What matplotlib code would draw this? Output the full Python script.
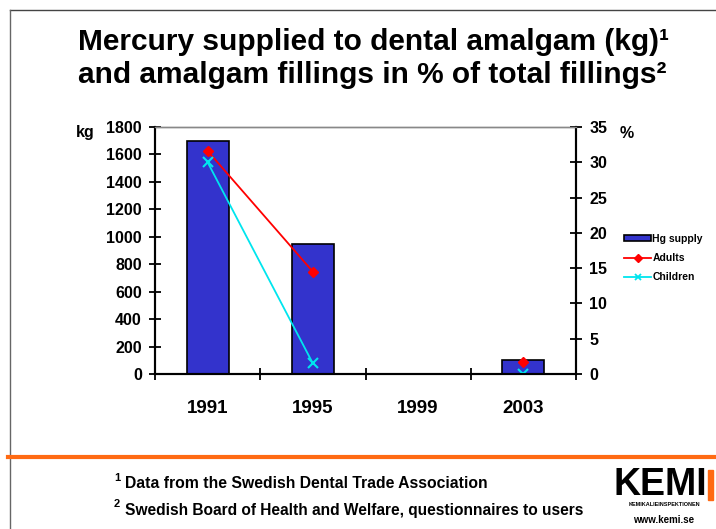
import matplotlib.pyplot as plt
import numpy as np
from matplotlib.lines import Line2D
from matplotlib.patches import Patch, Rectangle

plt.rcParams['font.family'] = 'Liberation Sans'
plt.rcParams['font.weight'] = 'bold'

# data
years = ['1991', '1995', '1999', '2003']
hg_supply = [1700, 950, np.nan, 100]      # kg
adults = [31.6, 14.5, np.nan, 1.7]        # % amalgam fillings
children = [30.0, 1.5, np.nan, 0.0]

fig = plt.figure(figsize=(7.16, 5.29), dpi=100)
ax = fig.add_axes([155/716, 1-374/529, (576-155)/716, (374-127)/529])
ax2 = ax.twinx()

x = np.arange(len(years))
ax.bar(x, hg_supply, width=0.4, color='#3333cc', edgecolor='black', linewidth=1.2, zorder=2)
ax.set_xlim(-0.5, 3.5)
ax.set_ylim(0, 1800)
ax.set_yticks(np.arange(0, 1801, 200))

ax2.plot(x, adults, color='red', marker='D', markersize=5, lw=1.3)
ax2.plot(x, children, color='#00e5ee', marker='x', markersize=7, mew=1.5, lw=1.3)
ax2.set_ylim(0, 35)
ax2.set_yticks(np.arange(0, 36, 5))

ax.set_xticks(x)
ax.set_xticklabels(years, fontsize=13.5, fontweight='bold')
ax.set_xticks(np.arange(-0.5, 3.6, 1), minor=True)
ax.tick_params(axis='x', which='major', length=0, pad=19)
ax.tick_params(axis='x', which='minor', direction='inout', length=9, width=1.3)
ax.tick_params(axis='y', direction='inout', length=9, width=1.3, labelsize=11.5, pad=5)
ax2.tick_params(axis='y', direction='inout', length=9, width=1.3, labelsize=11.5, pad=5)

for a in (ax, ax2):
    a.spines['top'].set_color('#888888')
    a.spines['top'].set_linewidth(1)
    for s in ('left', 'right', 'bottom'):
        a.spines[s].set_linewidth(1.5)
        a.spines[s].set_color('black')

for lab in ax.get_yticklabels() + ax2.get_yticklabels():
    lab.set_fontweight('bold')

fig.text(76/716, 1-133/529, 'kg', fontsize=11.5, fontweight='bold', ha='left', va='center')
fig.text(620/716, 1-134/529, '%', fontsize=11.5, fontweight='bold', ha='left', va='center')

handles = [Patch(facecolor='#3333cc', edgecolor='black', linewidth=1.2),
           Line2D([], [], color='red', marker='D', markersize=4, lw=1.3),
           Line2D([], [], color='#00e5ee', marker='x', markersize=5, mew=1.3, lw=1.3)]
fig.legend(handles, ['Hg supply', 'Adults', 'Children'], loc='center left',
           bbox_to_anchor=(619/716, 1-258/529), frameon=False,
           prop={'size': 7.5, 'weight': 'bold'}, handlelength=2.6, handleheight=0.5,
           handletextpad=0.1, labelspacing=0.85, borderpad=0)

fig.text(374/716, 1-42/529, 'Mercury supplied to dental amalgam (kg)¹', fontsize=21.5,
         fontweight='bold', ha='center', va='center')
fig.text(372/716, 1-75/529, 'and amalgam fillings in % of total fillings²', fontsize=21.5,
         fontweight='bold', ha='center', va='center')

# page frame and divider
fig.add_artist(Line2D([10/716, 1], [1-10/529, 1-10/529], color='#444444', lw=1))
fig.add_artist(Line2D([10/716, 10/716], [0, 1-10/529], color='#666666', lw=1))
fig.add_artist(Line2D([8/716, 1], [1-456.5/529, 1-456.5/529], color='#ff6a13', lw=3))

fig.text(114/716, 1-478/529, '1', fontsize=8, fontweight='bold', ha='left', va='center')
fig.text(125/716, 1-484/529, 'Data from the Swedish Dental Trade Association', fontsize=11.3,
         fontweight='bold', ha='left', va='center')
fig.text(114/716, 1-504/529, '2', fontsize=8, fontweight='bold', ha='left', va='center')
fig.text(125/716, 1-510/529, 'Swedish Board of Health and Welfare, questionnaires to users',
         fontsize=11.2, fontweight='bold', ha='left', va='center')

# logo
fig.text(613/716, 1-485/529, 'KEMI', fontsize=27, fontweight='bold', ha='left', va='center')
fig.add_artist(Rectangle((708/716, 1-500/529), 5/716, 30/529, color='#ff6a13',
                         transform=fig.transFigure))
fig.text(664/716, 1-505/529, 'KEMIKALIEINSPEKTIONEN', fontsize=4, fontweight='bold',
         ha='center', va='center')
fig.text(664/716, 1-520/529, 'www.kemi.se', fontsize=7, fontweight='bold',
         ha='center', va='center')

fig.savefig('out.png', dpi=100)
